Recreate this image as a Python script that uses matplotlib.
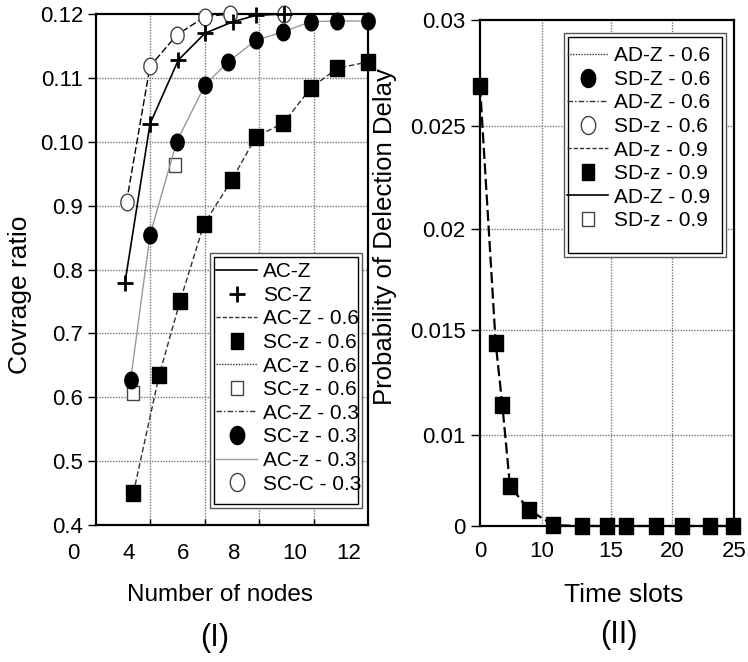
import numpy as np
import matplotlib
matplotlib.use('Agg')
from matplotlib import pyplot as plt
from matplotlib.lines import Line2D
from matplotlib.patches import Rectangle
import matplotlib.transforms as mtransforms

plt.rcParams['font.family'] = ['Liberation Sans', 'DejaVu Sans']

# ---- panel (I): coverage ratio vs number of nodes ----
# y values are positions on the printed scale (1.0-1.2 are printed as 0.10-0.12)
y_ticks = [0.4, 0.5, 0.6, 0.7, 0.8, 0.9, 1.0, 1.1, 1.2]
y_tick_labels = ['0.4', '0.5', '0.6', '0.7', '0.8', '0.9', '0.10', '0.11', '0.12']
x_grid = [5, 7, 9, 11]
x_label_pos = [2.2, 4.2, 6.2, 8.1, 10.3, 12.3]
x_label_txt = ['0', '4', '6', '8', '10', '12']

plus_x = [4.08, 5.0, 6.04, 7.02, 8.05, 8.9, 9.9, 10.9, 11.9, 13.0]
plus_y = [0.779, 1.028, 1.128, 1.170, 1.188, 1.198, 1.2, 1.2, 1.2, 1.2]

ocirc_x = [4.14, 5.0, 5.98, 7.02, 7.94, 9.9]
ocirc_y = [0.906, 1.118, 1.167, 1.196, 1.2, 1.2]

fcirc_x = [4.29, 5.0, 5.98, 7.02, 7.87, 8.89, 9.89, 10.9, 11.85, 13.0]
fcirc_y = [0.627, 0.854, 1.0, 1.089, 1.125, 1.159, 1.172, 1.188, 1.189, 1.189]

osq_x = [4.36, 5.92]
osq_y = [0.606, 0.964]

fsq_x = [4.39, 5.34, 6.1, 6.98, 8.0, 8.89, 9.89, 10.9, 11.87, 13.0]
fsq_y = [0.45, 0.635, 0.750, 0.871, 0.940, 1.008, 1.029, 1.084, 1.115, 1.125]

legend1_labels = ['AC-Z', 'SC-Z', 'AC-Z - 0.6', 'SC-z - 0.6', 'AC-z - 0.6',
                  'SC-z - 0.6', 'AC-Z - 0.3', 'SC-z - 0.3', 'AC-z - 0.3', 'SC-C - 0.3']

# ---- panel (II): probability of detection delay vs time slots ----
ry_ticks = [0, 0.01, 0.015, 0.02, 0.025, 0.03]
ry_tick_labels = ['0', '0.01', '0.015', '0.02', '0.025', '0.03']
rx_ticks = [0, 10, 15, 20, 25]
rx_tick_labels = ['0', '10', '15', '20', '25']

delay_x = [0, 2.53, 3.6, 4.84, 7.9, 10.82, 12.92, 14.73, 16.2, 18.66, 20.83, 23.06, 24.9]
delay_y = [0.0269, 0.01437, 0.01143, 0.0044, 0.00176, 0.0001, 0, 0, 0, 0, 0, 0, 0]

legend2_labels = ['AD-Z - 0.6', 'SD-Z - 0.6', 'AD-Z - 0.6', 'SD-z - 0.6',
                  'AD-z - 0.9', 'SD-z - 0.9', 'AD-Z - 0.9', 'SD-z - 0.9']

# printed (uneven) spacing of the panel (II) ticks, in pixels
ry_px = [0, 91, 196, 297, 400, 506]
rx_px = [0, 62, 131, 192, 254]

t = np.linspace(0, 2 * np.pi, 41)
ellipse = np.column_stack([0.8 * np.cos(t), np.sin(t)])
rect = np.array([[-0.85, -1], [0.85, -1], [0.85, 1], [-0.85, 1], [-0.85, -1]])

grid_kw = dict(color='#777777', linestyle=(0, (1, 1)), linewidth=1.0)
leg_kw = dict(loc='upper left', fontsize=15, frameon=False, handlelength=1.95,
              handletextpad=0.3, labelspacing=0.22, borderpad=0.3, borderaxespad=0)

fig = plt.figure(figsize=(7.48, 6.62), dpi=100)

# ---------- panel I ----------
ax1 = fig.add_axes([95.5 / 748, 1 - 525 / 662, 272.5 / 748, 511 / 662])
ax1.set_xlim(3, 13)
ax1.set_ylim(0.4, 1.2)
ax1.set_yticks(y_ticks)
ax1.set_yticklabels(y_tick_labels, fontsize=16)
ax1.set_xticks(x_grid)
ax1.set_xticklabels([])
ax1.tick_params(axis='y', direction='out', length=6, width=1, pad=3)
ax1.tick_params(axis='x', direction='in', length=4, width=1)
for v in y_ticks[1:-1]:
    ax1.axhline(v, zorder=0, **grid_kw)
for v in x_grid:
    ax1.axvline(v, zorder=0, **grid_kw)
for s in ax1.spines.values():
    s.set_linewidth(1.6)

ax1.plot(fsq_x, fsq_y, color='#333333', lw=1.0, ls=(0, (4, 2)), marker=rect,
         ms=11.5, mfc='black', mec='black', clip_on=False, zorder=3)
ax1.plot(fcirc_x, fcirc_y, color='#999999', lw=1.0, marker=ellipse, ms=12,
         mfc='black', mec='black', clip_on=False, zorder=3)
ax1.plot(osq_x, osq_y, ls='none', marker=rect, ms=9.5, mfc='white',
         mec='#444444', mew=1.0, clip_on=False, zorder=2.5)
ax1.plot(ocirc_x, ocirc_y, color='black', lw=1.0, ls=(0, (5, 2)), marker=ellipse,
         ms=12, mfc='white', mec='#444444', mew=1.0, clip_on=False, zorder=4)
ax1.plot(plus_x, plus_y, color='black', lw=1.2, marker='+', ms=11, mew=2,
         markevery=slice(0, 7), clip_on=False, zorder=4.5)

blend1 = mtransforms.blended_transform_factory(ax1.transData, ax1.transAxes)
for xp, txt in zip(x_label_pos, x_label_txt):
    ax1.text(xp, -0.055, txt, transform=blend1, ha='center', va='center',
             fontsize=16, clip_on=False)

h1 = [
    Line2D([], [], color='black', lw=1.2),
    Line2D([], [], ls='none', marker='+', ms=11, mew=2, color='black'),
    Line2D([], [], color='#333333', lw=1.0, ls=(0, (3, 1.5))),
    Line2D([], [], ls='none', marker=rect, ms=11, mfc='black', mec='black'),
    Line2D([], [], color='#333333', lw=1.0, ls=(0, (1, 1))),
    Line2D([], [], ls='none', marker=rect, ms=10.5, mfc='white', mec='#444444'),
    Line2D([], [], color='#333333', lw=1.0, ls=(0, (4, 1.5, 1, 1.5))),
    Line2D([], [], ls='none', marker=ellipse, ms=13, mfc='black', mec='black'),
    Line2D([], [], color='#999999', lw=1.0),
    Line2D([], [], ls='none', marker=ellipse, ms=13, mfc='white', mec='#444444'),
]
leg1 = fig.legend(h1, legend1_labels, bbox_to_anchor=(210 / 748, 1 - 256 / 662),
                  bbox_transform=fig.transFigure, **leg_kw)
leg1.set_zorder(12)

# ---------- panel II ----------
ax2 = fig.add_axes([480 / 748, 1 - 526 / 662, 254 / 748, 506 / 662])
ax2.set_xscale('function', functions=(lambda v: np.interp(v, rx_ticks, rx_px),
                                      lambda p: np.interp(p, rx_px, rx_ticks)))
ax2.set_yscale('function', functions=(lambda v: np.interp(v, ry_ticks, ry_px),
                                      lambda p: np.interp(p, ry_px, ry_ticks)))
ax2.set_xlim(0, 25)
ax2.set_ylim(0, 0.03)
ax2.set_xticks(rx_ticks)
ax2.set_xticklabels(rx_tick_labels, fontsize=16)
ax2.set_yticks(ry_ticks)
ax2.set_yticklabels(ry_tick_labels, fontsize=16)
ax2.xaxis.set_minor_locator(matplotlib.ticker.NullLocator())
ax2.yaxis.set_minor_locator(matplotlib.ticker.NullLocator())
ax2.tick_params(axis='y', direction='out', length=6.5, width=1, pad=4)
ax2.tick_params(axis='x', length=0, pad=11)
for v in ry_ticks[1:-1]:
    ax2.axhline(v, zorder=0, **grid_kw)
for v in rx_ticks[1:-1]:
    ax2.axvline(v, zorder=0, **grid_kw)
for s in ax2.spines.values():
    s.set_linewidth(1.6)

ax2.plot(delay_x, delay_y, color='black', lw=1.6, ls=(0, (5, 2)), marker=rect,
         ms=11.5, mfc='black', mec='black', clip_on=False, zorder=5)

h2 = [
    Line2D([], [], color='#333333', lw=1.0, ls=(0, (1, 1))),
    Line2D([], [], ls='none', marker=ellipse, ms=13, mfc='black', mec='black'),
    Line2D([], [], color='#333333', lw=1.0, ls=(0, (4, 1.5, 1, 1.5))),
    Line2D([], [], ls='none', marker=ellipse, ms=13, mfc='white', mec='#444444'),
    Line2D([], [], color='#333333', lw=1.0, ls=(0, (3, 1.5))),
    Line2D([], [], ls='none', marker=rect, ms=11, mfc='black', mec='black'),
    Line2D([], [], color='black', lw=1.2),
    Line2D([], [], ls='none', marker=rect, ms=10.5, mfc='white', mec='#444444'),
]
leg2 = fig.legend(h2, legend2_labels, bbox_to_anchor=(561 / 748, 1 - 40 / 662),
                  bbox_transform=fig.transFigure, **leg_kw)
leg2.set_zorder(12)

# double legend frames (outer grey, inner black), white filled behind the entries
for (x0, y0, x1, y1) in [(210, 253, 362, 508), (564, 33, 726, 257)]:
    fig.patches.append(Rectangle((x0 / 748, 1 - y1 / 662), (x1 - x0) / 748,
                                 (y1 - y0) / 662, transform=fig.transFigure,
                                 facecolor='white', edgecolor='#555555', lw=1.0,
                                 zorder=10))
    fig.patches.append(Rectangle(((x0 + 4) / 748, 1 - (y1 - 4) / 662),
                                 (x1 - x0 - 8) / 748, (y1 - y0 - 8) / 662,
                                 transform=fig.transFigure, fill=False,
                                 edgecolor='black', lw=1.0, zorder=11))

# axis titles and panel captions
fig.text(20 / 748, 1 - 295 / 662, 'Covrage ratio', rotation=90, ha='center',
         va='center', fontsize=19)
fig.text(385 / 748, 1 - 237 / 662, 'Probability of Delection Delay', rotation=90,
         ha='center', va='center', fontsize=18.5)
fig.text(220 / 748, 1 - 595 / 662, 'Number of nodes', ha='center', va='center',
         fontsize=17.5)
fig.text(624 / 748, 1 - 595 / 662, 'Time slots', ha='center', va='center',
         fontsize=19)
fig.text(215 / 748, 1 - 638 / 662, '(I)', ha='center', va='center', fontsize=22)
fig.text(619 / 748, 1 - 635 / 662, '(II)', ha='center', va='center', fontsize=22)

fig.savefig('out.png', dpi=100)
